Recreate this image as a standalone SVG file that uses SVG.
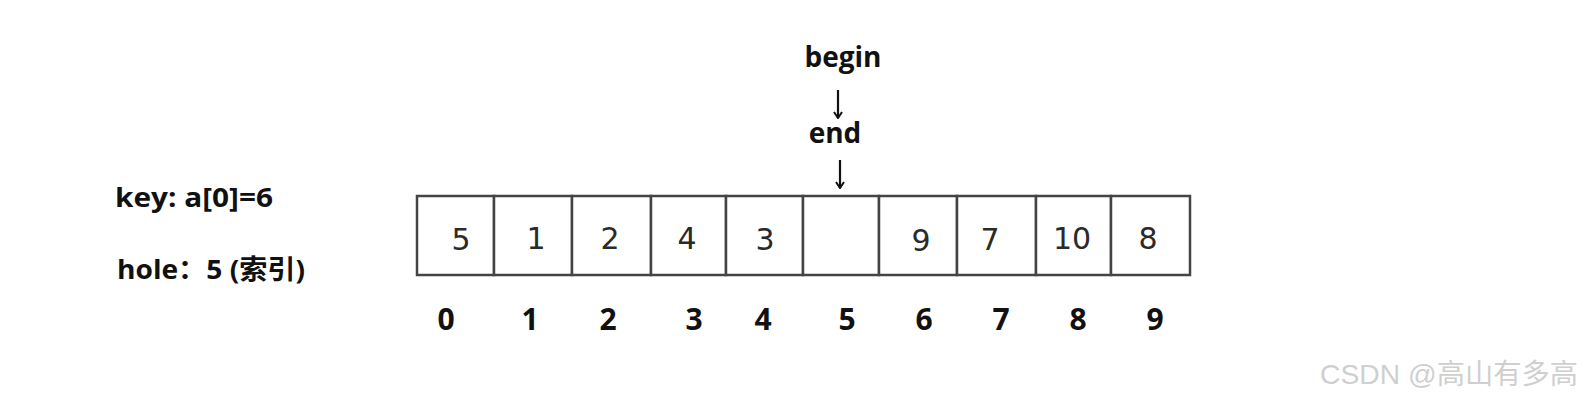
<svg xmlns="http://www.w3.org/2000/svg" width="1588" height="409" viewBox="0 0 1588 409">
<style>
.lbl{font-family:"Open Sans","Liberation Sans","Noto Sans CJK SC",sans-serif;font-weight:bold;fill:#111;}
.idx{font-family:"Open Sans","Liberation Sans",sans-serif;font-weight:bold;font-size:30px;fill:#111;text-anchor:middle;}
.val{font-family:"DejaVu Sans","Liberation Sans",sans-serif;font-size:30px;fill:#2a2a2a;text-anchor:middle;}
.cell{fill:#fff;stroke:#444;stroke-width:2.5;}
.arr{stroke:#111;stroke-width:2.2;fill:none;}
.wm{font-family:"Liberation Sans","Noto Sans CJK SC",sans-serif;font-size:28px;fill:#cfcfcf;}
</style>
<defs>
<marker id="ah" viewBox="0 0 10 10" refX="9" refY="5" markerWidth="10" markerHeight="10" markerUnits="userSpaceOnUse" orient="auto">
<path d="M3,1 L9,5 L3,9" stroke="#111" stroke-width="2" fill="none"/>
</marker>
</defs>
<rect width="1588" height="409" fill="#fff"/>

<g id="key-label"><text class="lbl" x="115" y="207" font-size="27" textLength="158" lengthAdjust="spacingAndGlyphs">key: a[0]=6</text></g>
<g id="hole-label"><text class="lbl" x="117" y="279" font-size="27" textLength="188" lengthAdjust="spacingAndGlyphs">hole：5 (索引)</text></g>

<g id="begin"><text class="lbl" x="843" y="67" font-size="28" text-anchor="middle">begin</text></g>
<g id="end"><text class="lbl" x="835" y="143" font-size="28" text-anchor="middle">end</text></g>

<g id="array">
<rect class="cell" x="417" y="196" width="77" height="79"/>
<rect class="cell" x="494" y="196" width="78" height="79"/>
<rect class="cell" x="572" y="196" width="79" height="79"/>
<rect class="cell" x="651" y="196" width="75" height="79"/>
<rect class="cell" x="726" y="196" width="77" height="79"/>
<rect class="cell" x="803" y="196" width="76" height="79"/>
<rect class="cell" x="879" y="196" width="78" height="79"/>
<rect class="cell" x="957" y="196" width="79" height="79"/>
<rect class="cell" x="1036" y="196" width="75" height="79"/>
<rect class="cell" x="1111" y="196" width="79" height="79"/>
<text class="val" x="461" y="250">5</text>
<text class="val" x="536" y="249">1</text>
<text class="val" x="610" y="249">2</text>
<text class="val" x="687" y="249">4</text>
<text class="val" x="765" y="250">3</text>
<text class="val" x="921" y="251">9</text>
<text class="val" x="990" y="250">7</text>
<text class="val" x="1072" y="249">10</text>
<text class="val" x="1148" y="249">8</text>
</g>

<g id="indices">
<text class="idx" x="446" y="330">0</text>
<text class="idx" x="530" y="330">1</text>
<text class="idx" x="608" y="330">2</text>
<text class="idx" x="694" y="330">3</text>
<text class="idx" x="763" y="330">4</text>
<text class="idx" x="847" y="330">5</text>
<text class="idx" x="924" y="330">6</text>
<text class="idx" x="1001" y="330">7</text>
<text class="idx" x="1078" y="330">8</text>
<text class="idx" x="1155" y="330">9</text>
</g>

<g id="connectors">
<line class="arr" x1="838" y1="90" x2="838" y2="118" marker-end="url(#ah)"/>
<line class="arr" x1="840" y1="160" x2="840" y2="188" marker-end="url(#ah)"/>
</g>

<g id="watermark"><text class="wm" x="1320" y="384" textLength="258" lengthAdjust="spacingAndGlyphs">CSDN @高山有多高</text></g>
</svg>
